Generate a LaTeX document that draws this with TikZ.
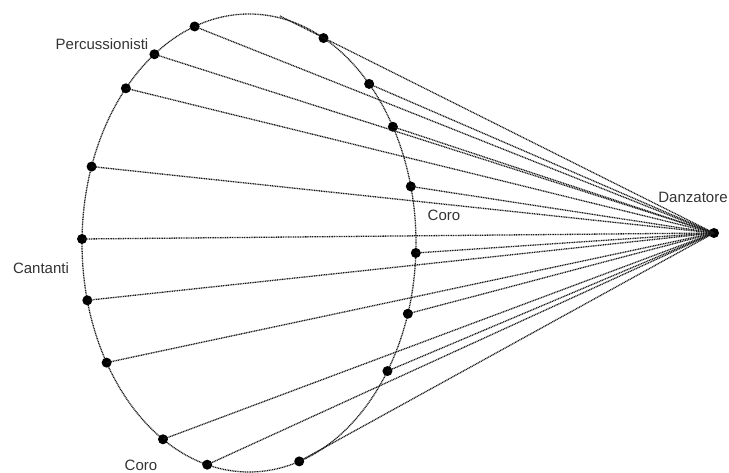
\documentclass[tikz,border=0pt]{standalone}
\usepackage{fontspec}
\setmainfont{Liberation Sans}
\begin{document}
\begin{tikzpicture}[x=1pt,y=1pt,
  dot/.style={circle,fill=black,inner sep=0pt,minimum size=10pt},
  conn/.style={dash pattern=on 1pt off 0.7pt,line width=1.3pt,black!90},
  rim/.style={dash pattern=on 1pt off 0.7pt,line width=1.3pt,black!90},
  lbl/.style={font=\fontsize{15}{18}\selectfont,text=black!80,inner sep=0pt}]
\useasboundingbox (0,0) rectangle (729,473);
% ellipse
\draw[rim] (249,230) ellipse [x radius=167, y radius=229];
% dots on the ellipse
\foreach \n/\t in {a1/109,a2/124.5,a3/137.5,a4/160.5,a5/179,a6/194.5,a7/211.5,a8/239,a9/255.5,
                   b1/63.5,b2/44,b3/30.5,b4/14.3,b5/357.5,b6/342,b7/326,b8/287.5}
  \node[dot] (\n) at ({249+167*cos(\t)},{230+229*sin(\t)}) {};
\node[dot] (dz) at (714,240) {};
\coordinate (tp) at (280,457);
\foreach \n in {a1,a2,a3,a4,a5,a6,a7,a8,a9,b2,b3,b4,b5,b6,b7,b8}
  \draw[conn] (dz.center) -- (\n.center);
\draw[conn] (dz.center) -- (tp);
% labels
\node[lbl] (perc) at (102,429) {Percussionisti};
\node[lbl] (cant) at (41,205) {Cantanti};
\node[lbl] (coro1) at (141,8) {Coro};
\node[lbl] (coro2) at (444,258) {Coro};
\node[lbl] (danz) at (693,276) {Danzatore};
\end{tikzpicture}
\end{document}
